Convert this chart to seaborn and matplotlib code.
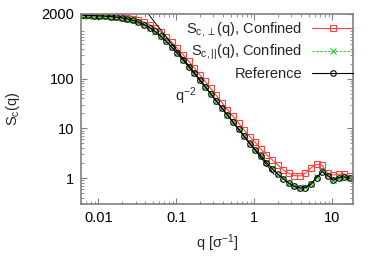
import numpy as np
import pandas as pd
import matplotlib
matplotlib.use('Agg')
import matplotlib.pyplot as plt
import seaborn as sns
from matplotlib.ticker import FixedLocator, FixedFormatter, LogLocator, NullFormatter

# q grid (sigma^-1)
q = [0.00631, 0.00744, 0.00877, 0.01034, 0.01218, 0.01436, 0.01693, 0.01995,
     0.02352, 0.02773, 0.03268, 0.03852, 0.04541, 0.05353, 0.0631, 0.0744,
     0.0877, 0.1034, 0.1218, 0.1436, 0.1693, 0.1995, 0.2352, 0.2773,
     0.3268, 0.3852, 0.4541, 0.5353, 0.631, 0.744, 0.877, 1.034,
     1.218, 1.436, 1.693, 1.995, 2.352, 2.773, 3.268, 3.852,
     4.541, 5.353, 6.31, 7.44, 8.77, 10.34, 12.18, 14.36, 16.93]

# S_c,perp(q), confined
s_perp = [1930, 1920, 1908, 1898, 1881, 1847, 1808, 1755,
          1689, 1614, 1509, 1373, 1222, 1050, 863, 687,
          538, 409, 306, 226, 166, 121, 87.8, 63.4,
          45.8, 33.0, 23.8, 17.4, 12.7, 9.25, 6.8, 5.2,
          3.8, 2.95, 2.35, 1.85, 1.45, 1.25, 1.12, 1.1,
          1.25, 1.6, 1.88, 1.8, 1.25, 1.15, 1.2, 1.2, 1.08]

# S_c,par(q), confined
s_par = [1860, 1852, 1840, 1822, 1797, 1765, 1720, 1662,
         1585, 1487, 1366, 1221, 1059, 887, 717, 562,
         430, 322, 240, 176, 129, 94.0, 68.2, 49.3,
         35.6, 25.7, 18.5, 13.3, 9.6, 6.9, 4.95, 3.72,
         2.82, 2.07, 1.56, 1.21, 0.98, 0.80, 0.69, 0.64,
         0.65, 0.77, 1.03, 1.36, 1.13, 0.91, 1.02, 1.05, 1.0]

# reference (bulk)
s_ref = [1875, 1865, 1852, 1834, 1809, 1776, 1730, 1671,
         1593, 1494, 1372, 1226, 1063, 890, 719, 563,
         430, 322, 239, 175, 128, 93.1, 67.5, 48.8,
         35.2, 25.4, 18.3, 13.2, 9.52, 6.85, 4.93, 3.7,
         2.8, 2.05, 1.55, 1.2, 0.97, 0.79, 0.68, 0.63,
         0.64, 0.76, 1.02, 1.35, 1.12, 0.9, 1.02, 1.05, 1.0]

# q^-2 guide line
guide_q = [0.0438, 1.8]
guide_s = [2000, 1.18]

ytick_vals = [1, 10, 100, 2000]
ytick_labels = ['1', '10', '100', '2000']
xtick_vals = [0.01, 0.1, 1, 10]
xtick_labels = ['0.01', '0.1', '1', '10']

sns.set_style('ticks')
plt.rcParams['font.family'] = ['Liberation Sans', 'DejaVu Sans']
plt.rcParams['mathtext.fontset'] = 'custom'
plt.rcParams['mathtext.rm'] = 'Liberation Sans'
plt.rcParams['mathtext.it'] = 'Liberation Sans:italic'
plt.rcParams['font.size'] = 10.5

fig = plt.figure(figsize=(3.8, 2.66), dpi=100)
ax = fig.add_axes([0.2132, 0.2331, 0.7157, 0.7143])

sns.lineplot(x=q, y=s_perp, ax=ax, color='#ff4040', lw=0.8, marker='s', ms=5,
             markerfacecolor='none', markeredgecolor='#ff4040', markeredgewidth=0.8,
             label=r'S$_{\mathrm{c},\perp}$(q), Confined')
sns.lineplot(x=q, y=s_par, ax=ax, color='#22cc22', lw=0.8, linestyle=(0, (2, 1.5)), marker='x', ms=4,
             markeredgecolor='#22cc22', markeredgewidth=0.8,
             label=r'S$_{\mathrm{c},||}$(q), Confined')
sns.lineplot(x=q, y=s_ref, ax=ax, color='black', lw=0.8, marker='o', ms=4,
             markerfacecolor='none', markeredgecolor='black', markeredgewidth=0.8,
             label='Reference')
ax.plot(guide_q, guide_s, color='black', lw=0.7)
ax.text(0.097, 36, r'q$^{-2}$', ha='left', va='baseline')

ax.set_xscale('log')
ax.set_yscale('log')
ax.set_xlim(0.006, 18.5)
ax.set_ylim(0.3, 2000)

ax.yaxis.set_major_locator(FixedLocator(ytick_vals))
ax.yaxis.set_major_formatter(FixedFormatter(ytick_labels))
ax.yaxis.set_minor_locator(LogLocator(base=10, subs=np.arange(2, 10), numticks=20))
ax.yaxis.set_minor_formatter(NullFormatter())
ax.xaxis.set_major_locator(FixedLocator(xtick_vals))
ax.xaxis.set_major_formatter(FixedFormatter(xtick_labels))
ax.xaxis.set_minor_locator(LogLocator(base=10, subs=np.arange(2, 10), numticks=20))
ax.xaxis.set_minor_formatter(NullFormatter())

for s in ax.spines.values():
    s.set_color('#808080')
    s.set_linewidth(1.2)
ax.tick_params(which='both', direction='in', top=True, right=True, color='#808080', labelcolor='black')
ax.tick_params(which='major', length=4, width=0.8, pad=5)
ax.tick_params(which='minor', length=2, width=0.6)

ax.set_xlabel('q [σ$^{-1}$]')
ax.set_ylabel(r'S$_\mathrm{c}$(q)')
ax.xaxis.set_label_coords(0.5, -0.205)
ax.xaxis.label.set_va('center')
ax.yaxis.set_label_coords(-0.25, 0.5)
ax.yaxis.label.set_va('center')

ax.legend(loc='upper right', bbox_to_anchor=(1.0, 0.97), markerfirst=False, frameon=False,
          handlelength=2.8, handletextpad=0.7, labelspacing=0.3, borderaxespad=0, borderpad=0,
          fontsize=10.5)

fig.savefig('out.png', dpi=100)
